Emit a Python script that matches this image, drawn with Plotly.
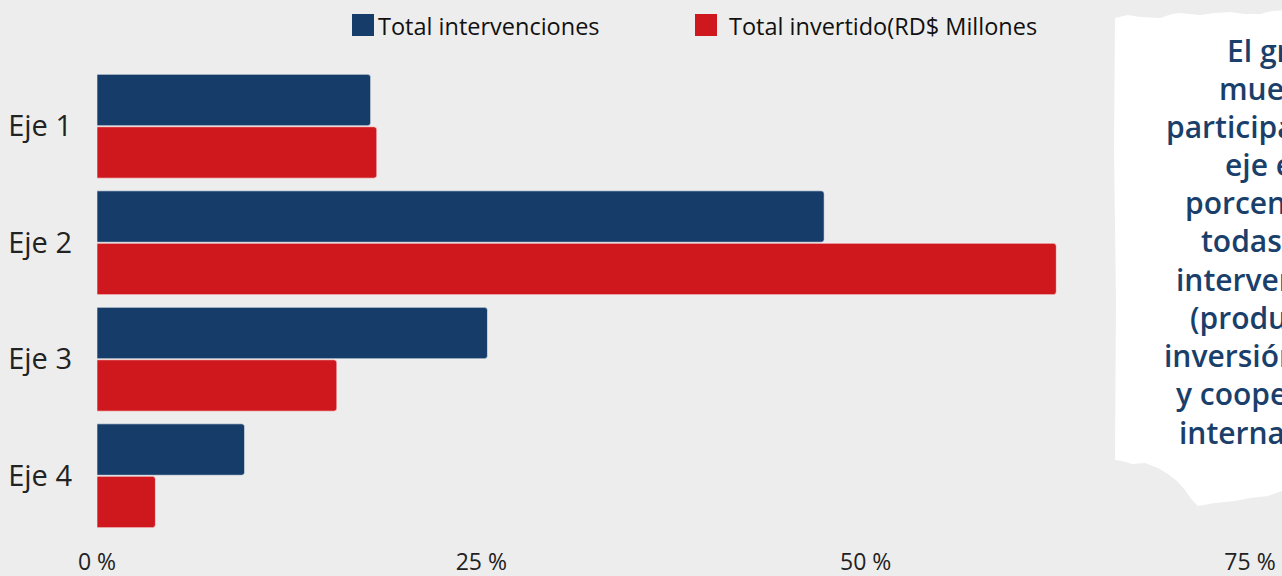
import plotly.graph_objects as go

categories = ["Eje 1", "Eje 2", "Eje 3", "Eje 4"]
intervenciones = [17.8, 47.3, 25.4, 9.6]
invertido = [18.2, 62.4, 15.6, 3.8]
x_ticks = [0, 25, 50, 75]
x_tick_labels = ["0 %", "25 %", "50 %", "75 %"]
series_names = ["Total intervenciones", "Total invertido(RD$ Millones"]
note_lines = ["El gráfico", "muestra la", "participación por", "eje en",
              "porcentaje de", "todas las", "intervenciones", "(productos,",
              "inversión pública", "y cooperación", "internacional)"]
note_starts = [1225, 1217, 1164, 1223, 1183, 1199, 1174, 1188, 1162, 1174, 1177]

W, H = 1282, 576
L, R, T, B = 97, 32, 68, 42
PW, PH = W - L - R, H - T - B

def px(x):
    return (x - L) / PW

def py(y):
    return (H - B - y) / PH

BLUE = "#163d6a"
RED = "#cf181e"
BG = "#ededed"
NAVY = "#1b3f6b"

fig = go.Figure()
fig.add_trace(go.Bar(y=categories, x=intervenciones, orientation="h", name=series_names[0],
                     marker=dict(color=BLUE, line=dict(color="rgba(255,255,255,0.55)", width=1)),
                     showlegend=False))
fig.add_trace(go.Bar(y=categories, x=invertido, orientation="h", name=series_names[1],
                     marker=dict(color=RED, line=dict(color="rgba(255,255,255,0.55)", width=1)),
                     showlegend=False))

# torn paper note box
pts = [(1115, 18), (1128, 15), (1140, 17), (1160, 18), (1172, 14), (1180, 13), (1200, 15),
       (1215, 13), (1230, 12), (1245, 14), (1260, 14), (1272, 11), (1295, 10),
       (1295, 492), (1282, 491), (1268, 496), (1250, 498), (1235, 501), (1215, 503),
       (1198, 506), (1192, 500), (1185, 490), (1178, 482), (1168, 474), (1158, 468),
       (1145, 463), (1132, 464), (1122, 461), (1115, 460), (1116, 300), (1114, 150)]
path = "M " + " L ".join(f"{px(x):.5f},{py(y):.5f}" for x, y in pts) + " Z"

shapes = [
    dict(type="path", path=path, xref="paper", yref="paper", fillcolor="white",
         line=dict(width=0), layer="above"),
    dict(type="rect", xref="paper", yref="paper", x0=px(352), x1=px(374), y0=py(36), y1=py(14),
         fillcolor=BLUE, line=dict(width=0)),
    dict(type="rect", xref="paper", yref="paper", x0=px(695), x1=px(717), y0=py(36), y1=py(14),
         fillcolor=RED, line=dict(width=0)),
]

annotations = [
    dict(text=series_names[0], x=px(376), y=py(26), xref="paper", yref="paper",
         xanchor="left", yanchor="middle", showarrow=False,
         font=dict(family="Open Sans", size=23.5, color="#111")),
    dict(text=series_names[1], x=px(727), y=py(26), xref="paper", yref="paper",
         xanchor="left", yanchor="middle", showarrow=False,
         font=dict(family="Open Sans", size=23.5, color="#111")),
]
for i, (line, xs) in enumerate(zip(note_lines, note_starts)):
    annotations.append(dict(text=line, x=px(xs), y=py(50 + i * 38.2), xref="paper", yref="paper",
                            xanchor="left", yanchor="middle", showarrow=False,
                            font=dict(family="Open Sans", size=30, color=NAVY, weight=600)))

fig.update_layout(
    width=W, height=H,
    margin=dict(l=L, r=R, t=T, b=B, pad=0, autoexpand=False),
    paper_bgcolor=BG, plot_bgcolor=BG,
    barmode="group", bargap=0.1, bargroupgap=0.02, barcornerradius=3,
    shapes=shapes, annotations=annotations,
    xaxis=dict(range=[0, 75], tickmode="array", tickvals=x_ticks, ticktext=x_tick_labels,
               showgrid=False, zeroline=False, showline=False, ticks="", ticklabelstandoff=12,
               automargin=False, tickfont=dict(family="Open Sans", size=23, color="#222")),
    yaxis=dict(autorange="reversed", showgrid=False, zeroline=False, showline=False, ticks="",
               ticklabelstandoff=24, automargin=False,
               tickfont=dict(family="Open Sans", size=29, color="#222")),
)

fig.write_html("out.html", config={"displayModeBar": False},
               post_script="document.body.style.margin='0';document.body.style.background='#ededed';")
